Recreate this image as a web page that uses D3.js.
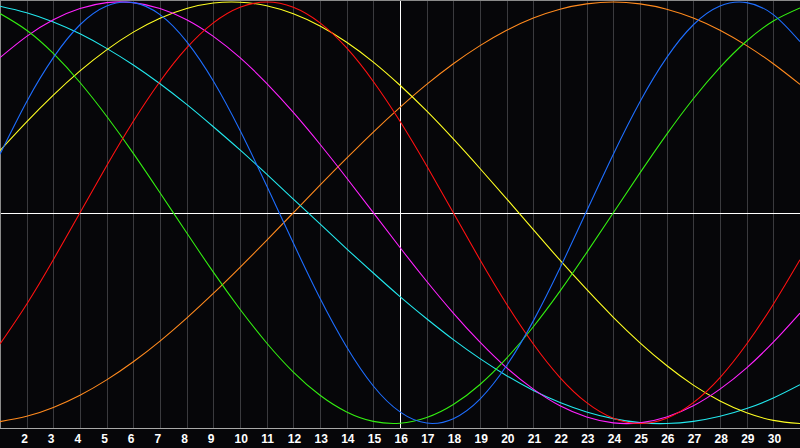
<!DOCTYPE html>
<html>
<head>
<meta charset="utf-8">
<script src="https://cdn.jsdelivr.net/npm/d3@7"></script>
<style>
  html, body { margin: 0; padding: 0; background: #060609; }
  svg { display: block; }
</style>
</head>
<body>
<div id="chart"></div>
<script>
// days shown on the chart
const days = d3.range(1, 32);
// tick labels along the bottom
const tickLabels = d3.range(2, 31);
const today = 16;

// curve values per day (-1 .. 1)
const blue = [0.278, 0.527, 0.736, 0.892, 0.981, 0.997, 0.940, 0.812, 0.625, 0.391, 0.128, -0.144, -0.406, -0.637, -0.822, -0.945, -0.998, -0.977, -0.884, -0.725, -0.513, -0.262, 0.008, 0.278, 0.527, 0.736, 0.892, 0.981, 0.997, 0.940, 0.812];
const red = [-0.623, -0.434, -0.223, 0, 0.223, 0.434, 0.623, 0.782, 0.901, 0.975, 1.0, 0.975, 0.901, 0.782, 0.623, 0.434, 0.223, 0, -0.223, -0.434, -0.623, -0.782, -0.901, -0.975, -1.0, -0.975, -0.901, -0.782, -0.623, -0.434, -0.223];
const green = [0.945, 0.866, 0.756, 0.618, 0.458, 0.282, 0.095, -0.095, -0.282, -0.458, -0.618, -0.756, -0.866, -0.945, -0.990, -0.999, -0.972, -0.910, -0.815, -0.690, -0.541, -0.372, -0.189, 0, 0.189, 0.372, 0.541, 0.690, 0.815, 0.910, 0.972];
const magenta = [0.736, 0.837, 0.916, 0.969, 0.997, 0.997, 0.969, 0.916, 0.837, 0.736, 0.614, 0.476, 0.325, 0.165, 0, -0.165, -0.325, -0.476, -0.614, -0.736, -0.837, -0.916, -0.969, -0.997, -0.997, -0.969, -0.916, -0.837, -0.736, -0.614, -0.476];
const yellow = [0.295, 0.431, 0.558, 0.673, 0.773, 0.857, 0.923, 0.969, 0.995, 0.999, 0.982, 0.944, 0.886, 0.809, 0.715, 0.605, 0.483, 0.350, 0.210, 0.066, -0.080, -0.225, -0.364, -0.496, -0.617, -0.725, -0.818, -0.893, -0.949, -0.985, -1.0];
const orange = [-0.991, -0.966, -0.924, -0.866, -0.793, -0.707, -0.609, -0.5, -0.383, -0.259, -0.131, 0, 0.131, 0.259, 0.383, 0.5, 0.609, 0.707, 0.793, 0.866, 0.924, 0.966, 0.991, 1.0, 0.991, 0.966, 0.924, 0.866, 0.793, 0.707, 0.609];
const cyan = [0.980, 0.949, 0.905, 0.849, 0.780, 0.701, 0.612, 0.514, 0.408, 0.298, 0.183, 0.065, -0.053, -0.171, -0.286, -0.398, -0.503, -0.602, -0.692, -0.773, -0.843, -0.900, -0.945, -0.977, -0.996, -1.0, -0.990, -0.966, -0.929, -0.879, -0.816];

const series = [
  { values: orange, color: "#ff8a1e" },
  { values: cyan, color: "#22e8ee" },
  { values: yellow, color: "#ffff22" },
  { values: magenta, color: "#ff22ff" },
  { values: green, color: "#33ee11" },
  { values: red, color: "#ff1111" },
  { values: blue, color: "#1e6eff" },
];

let width = 800,
  height = 448,
  plotBottom = 428;

let svg = d3
  .select("#chart")
  .append("svg")
  .attr("width", width)
  .attr("height", height);

svg.append("rect")
  .attr("width", width)
  .attr("height", height)
  .attr("fill", "#060609");

let x = d3.scaleLinear().domain([1, 31]).range([0, width]);
let y = d3.scaleLinear().domain([-1, 1]).range([423.5, 2]);

// day grid lines
svg.selectAll(".grid")
  .data(tickLabels)
  .join("line")
  .attr("class", "grid")
  .attr("x1", (d) => Math.round(x(d)) + 0.5)
  .attr("x2", (d) => Math.round(x(d)) + 0.5)
  .attr("y1", 0)
  .attr("y2", plotBottom)
  .attr("stroke", (d) => (d == today ? "#ffffff" : "#3a3a3e"))
  .attr("stroke-width", 1)
  .style("shape-rendering", "crispEdges");

// zero line
svg.append("line")
  .attr("x1", 0)
  .attr("x2", width)
  .attr("y1", Math.round(y(0)) + 0.5)
  .attr("y2", Math.round(y(0)) + 0.5)
  .attr("stroke", "#ffffff")
  .style("shape-rendering", "crispEdges");

// frame: left, top, bottom
svg.append("path")
  .attr("d", `M0.5,${plotBottom}V0.5H${width}`)
  .attr("fill", "none")
  .attr("stroke", "#8a8a8a")
  .style("shape-rendering", "crispEdges");
svg.append("line")
  .attr("x1", 0)
  .attr("x2", width)
  .attr("y1", plotBottom + 0.5)
  .attr("y2", plotBottom + 0.5)
  .attr("stroke", "#a8a8a8")
  .style("shape-rendering", "crispEdges");

let line = d3
  .line()
  .x((d, i) => x(days[i]))
  .y((d) => y(d))
  .curve(d3.curveNatural);

svg.selectAll(".curve")
  .data(series)
  .join("path")
  .attr("class", "curve")
  .attr("d", (s) => line(s.values))
  .attr("fill", "none")
  .attr("stroke", (s) => s.color)
  .attr("stroke-width", 1.1);

// day labels
svg.selectAll(".label")
  .data(tickLabels)
  .join("text")
  .attr("class", "label")
  .attr("x", (d) => x(d) - 5.5)
  .attr("y", 443)
  .attr("fill", "#ffffff")
  .style("font-family", "'Liberation Sans', Arial, sans-serif")
  .style("font-weight", "bold")
  .style("font-size", "12px")
  .text((d) => d);
</script>
</body>
</html>
